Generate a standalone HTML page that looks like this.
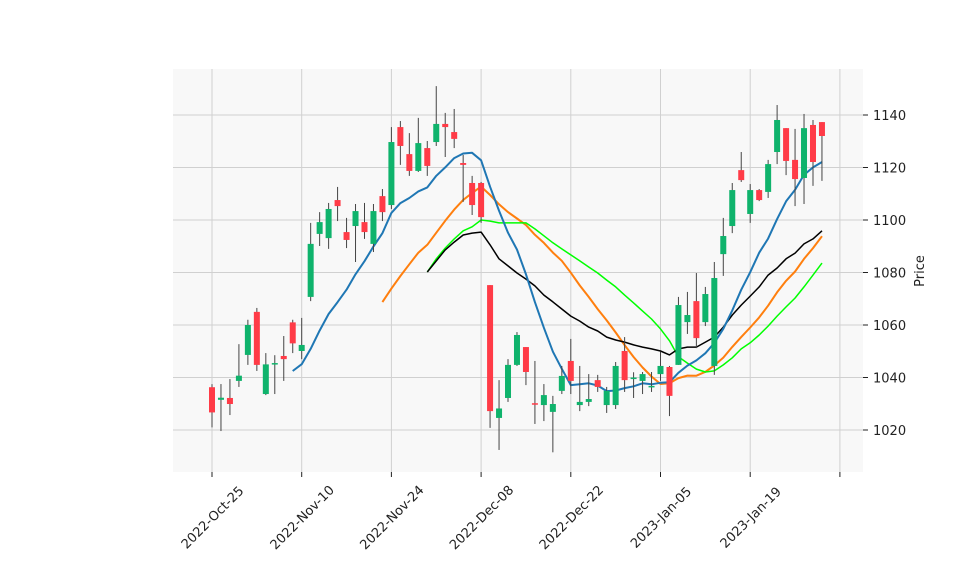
<!DOCTYPE html>
<html><head><meta charset="utf-8">
<style>
html,body{margin:0;padding:0;background:#fff;}
svg{display:block;font-family:"DejaVu Sans","Liberation Sans",sans-serif;}
</style></head>
<body>
<svg id="chart" width="958" height="575" viewBox="0 0 958 575" xmlns="http://www.w3.org/2000/svg">
  <rect x="173" y="69" width="690" height="403" fill="#f8f8f8"/>
  <g id="grid"></g>
  <g id="ma"></g>
  <g id="candles"></g>
  <g id="axes"></g>
  <text x="924" y="271" font-size="13" fill="#222" text-anchor="middle" transform="rotate(-90 924 271)">Price</text>
</svg>
<script>
const opens  = [1036.3,1031.5,1032.2,1038.7,1048.6,1065,1033.7,1045,1048.2,1061,1050.1,1070.7,1094.7,1093.1,1107.6,1095.4,1097.7,1099.2,1090.9,1109.1,1105.7,1135.4,1125.1,1118.7,1127.4,1129.7,1136.6,1133.5,1121.7,1114.1,1114.1,1075.2,1024.6,1032.2,1044.8,1051.6,1030.2,1029.5,1026.9,1034.9,1046.3,1029.5,1030.7,1039,1029.5,1029.5,1050.1,1039.4,1038.7,1036.4,1041.3,1044,1044.8,1061.1,1069.1,1061.1,1044.4,1087,1097.7,1119,1102.3,1111.4,1110.7,1125.9,1135,1122.9,1116,1136.2,1137.3];
const highs  = [1037.5,1037.5,1039.4,1052.7,1062,1066.5,1049.3,1048.5,1055.8,1062,1062.7,1098.9,1103,1106.5,1112.6,1100.8,1106.1,1106.5,1106.1,1111.8,1135.4,1137.7,1133.1,1138.9,1130.1,1151,1140.8,1142.3,1124.8,1116.8,1114.5,1075.2,1039,1047,1057.3,1051.6,1046.3,1037.5,1033,1044.4,1054.7,1044.4,1041.3,1041,1036.4,1045.9,1055.4,1042,1042.1,1042.1,1049.7,1044.4,1070.7,1072.6,1079.8,1074.5,1084,1100.8,1114.1,1125.9,1113.7,1111.8,1122.9,1143.8,1135,1134.7,1140.4,1138.1,1137.3];
const lows   = [1021,1019.6,1025.7,1036.4,1044.8,1042.5,1033.3,1033.7,1038.7,1049.3,1047,1069.1,1090.1,1089,1099.6,1089.3,1084,1092.8,1087.8,1099.6,1104.2,1121,1116.8,1118.3,1116.8,1128.2,1124,1127.4,1106.9,1101.9,1098.9,1020.8,1012.4,1030.7,1044.4,1037.1,1022.3,1023.4,1011.5,1033.7,1033.7,1027.2,1029.1,1034.5,1026.5,1028,1034.5,1032.2,1033.7,1034.5,1038.7,1025.3,1044.8,1056.6,1051.2,1059.6,1041,1078.7,1095,1114.5,1098.9,1107.2,1108.4,1121.3,1117.1,1105.3,1106.1,1113,1114.9];
const closes = [1026.7,1032.3,1029.9,1040.7,1060,1044.8,1045,1045.5,1047,1053,1052.4,1090.9,1099.2,1104.2,1105.3,1092.4,1103.4,1095.4,1103.4,1103,1129.7,1128.2,1118.7,1129.3,1120.6,1136.6,1135.4,1130.9,1121,1105.7,1101.1,1027.2,1028.2,1044.8,1056.2,1042.1,1029.9,1033.3,1029.9,1040.6,1038.7,1030.7,1031.8,1036.4,1034.9,1044.4,1039,1040,1041.3,1036.8,1044.4,1033,1067.6,1063.8,1055,1071.8,1077.9,1093.9,1111.4,1115.2,1111.4,1107.6,1121.3,1138.1,1122.5,1115.6,1135,1122.1,1132];
// Extra average lines (start at candle 24)
const blackLine = [1080.2,1084.4,1088.6,1091.6,1094.3,1095,1095.4,1090.5,1085.2,1082.5,1079.8,1077.5,1074.9,1071.4,1068.8,1066.1,1063.4,1061.5,1059.2,1057.7,1055.4,1054.3,1053.5,1052.4,1051.6,1050.9,1050.1,1048.6,1050.9,1051.6,1051.6,1053.5,1055.4,1059.2,1063.8,1067.6,1071,1074.5,1079,1081.7,1085.2,1087.4,1090.9,1092.8,1095.9];
const limeLine  = [1080.2,1085.2,1089.3,1092.8,1095.9,1097.4,1100,1099.6,1098.9,1098.9,1098.9,1098.9,1096.6,1094,1091.3,1089,1086.7,1084.4,1082.1,1079.8,1077.1,1074.5,1071.4,1068.4,1065.3,1062.3,1058.5,1054,1047.9,1045.5,1043.2,1042.1,1042.5,1044.8,1047.5,1050.9,1053.2,1056.2,1059.6,1063.4,1066.9,1070.3,1074.5,1079,1083.6];
const limeStart = 24;
const yTicks = [1020,1040,1060,1080,1100,1120,1140];
const xTickIdx = [0,10,20,30,40,50,60,70];
const xTickLabels = ["2022-Oct-25","2022-Nov-10","2022-Nov-24","2022-Dec-08","2022-Dec-22","2023-Jan-05","2023-Jan-19",""];

const NS="http://www.w3.org/2000/svg";
const L=173,R=863,T=69,B=472;
const xS=i=>212+i*8.97;
const yS=v=>115+(1140-v)*2.625;
function mk(tag,attrs,parent){const e=document.createElementNS(NS,tag);for(const k in attrs)e.setAttribute(k,attrs[k]);parent.appendChild(e);return e;}
const grid=document.getElementById('grid'),axes=document.getElementById('axes'),cg=document.getElementById('candles'),ma=document.getElementById('ma');

yTicks.forEach(v=>{
  const y=yS(v);
  const g=mk('line',{x1:L,x2:R,y1:y,y2:y,stroke:'#d0d0d0','stroke-width':1},grid);
  
  
  const t=mk('line',{x1:R,x2:R+5,y1:y,y2:y,stroke:'#222','stroke-width':1},axes);
  
  
  const tx=mk('text',{x:R+10,y:y+5,'font-size':13,fill:'#222'},axes);
  tx.textContent=v;
  
  
});
xTickIdx.forEach((i,k)=>{
  const x=xS(i);
  const g=mk('line',{x1:x,x2:x,y1:T,y2:B,stroke:'#d0d0d0','stroke-width':1},grid);
  
  
  const t=mk('line',{x1:x,x2:x,y1:B,y2:B+5,stroke:'#222','stroke-width':1},axes);
  
  
  if(xTickLabels[k]){
    const cy=517;
    const tx=mk('text',{x:x,y:cy+5,'font-size':13,fill:'#222','text-anchor':'middle',transform:`rotate(-45 ${x} ${cy})`},axes);
    tx.textContent=xTickLabels[k];
    
    
  }
});

function sma(arr,n){return arr.map((_,i)=>{if(i<n-1)return null;let s=0;for(let j=i-n+1;j<=i;j++)s+=arr[j];return s/n;});}
function drawLine(vals,start,color,w,name){
  const pts=[];vals.forEach((v,i)=>{if(v!=null)pts.push(xS(i+start).toFixed(1)+','+yS(v).toFixed(1));});
  const p=mk('polyline',{points:pts.join(' '),fill:'none',stroke:color,'stroke-width':w,'stroke-linejoin':'round'},ma);
  
  
}
drawLine(sma(closes,20),0,'#ff7f0e',2,'ma20-line');
drawLine(limeLine,limeStart,'#00ff00',1.5,'lime-average-line');
drawLine(blackLine,limeStart,'#000000',1.5,'black-average-line');
drawLine(sma(closes,10),0,'#1f77b4',2,'ma10-line');

closes.forEach((c,i)=>{
  const o=opens[i],x=xS(i);
  const up=c>=o,col=up?'#0fb36c':'#ff3b47';
  const g=mk('g',{},cg);
  
  
  mk('line',{x1:x,x2:x,y1:yS(highs[i]),y2:yS(lows[i]),stroke:'#444','stroke-width':1},g);
  const top=yS(Math.max(o,c)),h=Math.max(1.5,Math.abs(yS(o)-yS(c)));
  mk('rect',{x:x-3,y:top,width:6,height:h,fill:col},g);
});
</script>
</body></html>
